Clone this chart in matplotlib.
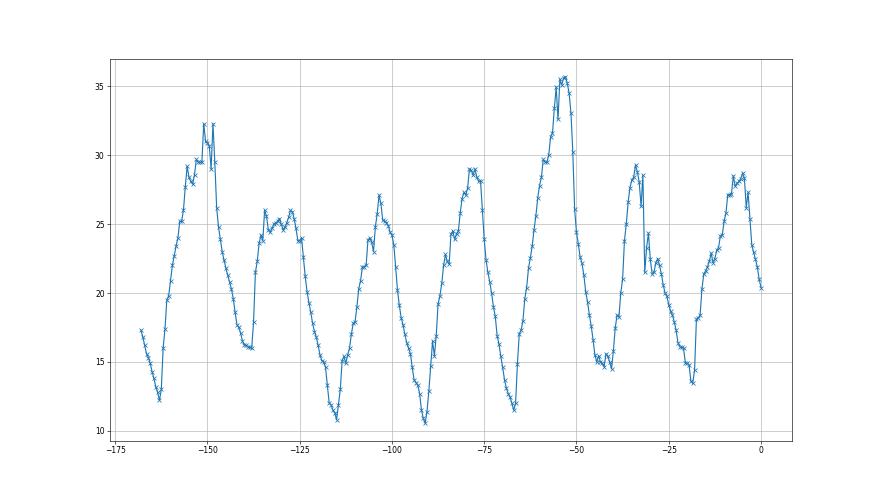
import numpy as np
import matplotlib
matplotlib.use('Agg')
import matplotlib.pyplot as plt

# half-hour readings over the last 7 days (hours relative to now)
hours = np.arange(-168, 0.5, 0.5)

temps = [
    # -168 .. -147
    17.3, 16.8, 16.2, 15.6, 15.3, 14.9, 14.3, 13.8, 13.2, 12.8, 12.2, 13.0,
    16.0, 17.4, 19.5, 19.8, 20.9, 22.0, 22.7, 23.4, 24.0, 25.2, 25.2, 26.0,
    27.7, 29.2, 28.4, 28.1, 27.9, 28.6, 29.7, 29.5, 29.5, 29.5, 32.3, 31.0,
    30.9, 30.7, 29.0, 32.3, 29.5, 26.2, 24.8,
    # -146.5 .. -124
    23.9, 23.0, 22.4, 21.8, 21.3, 20.8, 20.3, 19.6, 18.6, 17.7, 17.5, 17.1,
    16.5, 16.25, 16.2, 16.1, 16.05, 16.0, 17.9, 21.5, 22.3, 23.6, 24.2, 23.8,
    26.0, 25.6, 24.6, 24.4, 24.7, 25.0, 25.1, 25.2, 25.4, 25.0, 24.6, 24.8,
    25.1, 25.5, 26.0, 25.9, 25.4, 24.7, 23.8, 23.8, 24.0, 22.6,
    # -123.5 .. -101
    21.2, 20.1, 19.3, 18.6, 17.8, 17.2, 16.8, 16.2, 15.5, 15.1, 15.0, 14.6,
    13.3, 12.0, 11.9, 11.5, 11.3, 10.8, 11.9, 13.0, 15.1, 15.4, 14.9, 15.5,
    16.0, 17.0, 17.8, 17.9, 19.0, 20.3, 20.9, 21.9, 21.9, 22.0, 23.85, 24.0,
    23.7, 23.0, 24.8, 25.75, 27.1, 26.5, 25.3, 25.2, 25.1, 24.9,
    # -100.5 .. -78
    24.4, 24.2, 23.5, 21.9, 20.2, 19.1, 18.2, 17.7, 17.0, 16.4, 16.0, 15.6,
    14.6, 13.7, 13.5, 13.3, 12.7, 11.5, 10.9, 10.55, 11.4, 12.9, 14.7, 16.5,
    15.45, 16.9, 19.2, 19.8, 20.7, 22.0, 22.8, 22.3, 22.1, 24.3, 24.5, 23.9,
    24.3, 24.5, 25.8, 26.85, 27.3, 27.1, 27.6, 29.0, 28.9, 28.55,
    # -77.5 .. -55
    29.0, 28.4, 28.1, 28.15, 26.0, 23.9, 22.4, 21.5, 20.8, 20.0, 19.0, 18.3,
    16.9, 16.3, 15.4, 14.6, 13.7, 13.1, 12.7, 12.45, 12.0, 11.5, 12.0, 14.85,
    17.05, 17.3, 18.0, 19.6, 20.4, 21.8, 22.55, 23.4, 24.6, 25.6, 26.9, 27.8,
    28.4, 29.7, 29.5, 29.5, 30.05, 31.35, 31.6, 33.4, 34.95, 32.6,
    # -54.5 .. -32
    35.5, 35.1, 35.6, 35.7, 35.25, 34.5, 33.1, 30.25, 26.1, 24.4, 23.55, 22.6,
    22.15, 21.3, 20.1, 19.35, 18.4, 17.6, 16.6, 15.5, 15.0, 15.45, 15.0, 14.9,
    14.65, 15.6, 15.4, 15.0, 14.5, 15.8, 17.45, 18.4, 18.25, 20.0, 21.0, 23.8,
    25.0, 26.6, 27.65, 28.2, 28.4, 29.3, 28.8, 28.05, 26.3, 28.55,
    # -31.5 .. -9
    21.5, 23.3, 24.35, 22.45, 21.4, 21.5, 22.2, 22.5, 22.0, 21.4, 20.6, 20.0,
    19.75, 19.15, 18.7, 18.4, 17.9, 17.3, 16.4, 16.1, 16.05, 16.0, 14.95, 14.9,
    14.8, 13.6, 13.45, 14.4, 18.1, 18.2, 18.4, 20.3, 21.4, 21.6, 21.9, 22.3,
    22.9, 22.2, 22.5, 23.1, 23.3, 24.15, 24.2, 25.2, 25.8, 27.15,
    # -8.5 .. 0
    27.1, 27.2, 28.5, 27.75, 27.95, 28.1, 28.3, 28.7, 28.35, 26.2, 27.3, 25.4,
    23.5, 22.95, 22.45, 21.9, 21.0, 20.4,
]

fig, ax = plt.subplots(figsize=(16, 9), dpi=55)
ax.plot(hours, temps, marker='x')
ax.grid(True)

fig.savefig('out.png')
